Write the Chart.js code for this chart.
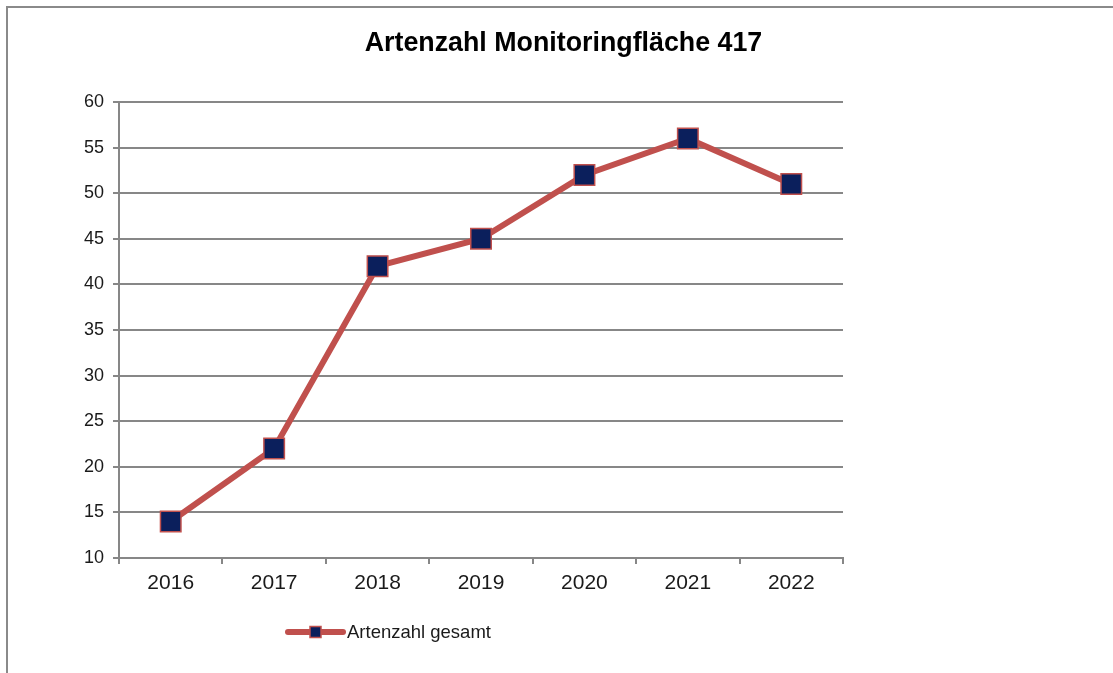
<!DOCTYPE html>
<html>
<head>
<meta charset="utf-8">
<script src="https://cdn.jsdelivr.net/npm/chart.js@4"></script>
<style>
  html, body { margin: 0; padding: 0; background: #fff; }
  #chart { display: block; }
</style>
</head>
<body>
<canvas id="chart" width="1113" height="673"></canvas>
<script>
// chart data
var years = ['2016', '2017', '2018', '2019', '2020', '2021', '2022'];
var artenzahl = [14, 22, 42, 45, 52, 56, 51];
var seriesName = 'Artenzahl gesamt';
var chartTitle = 'Artenzahl Monitoringfläche 417';
var yMin = 10, yMax = 60, yStep = 5;

var lineColor = '#c0504d';
var markerFill = '#0b1f5c';
var gridColor = '#878787';
var textColor = '#1a1a1a';
var fontFamily = '"Liberation Sans", Arial, sans-serif';

// frame round the chart (only top and left edge visible)
var framePlugin = {
	id: 'frame',
	beforeDraw: function(chart) {
		var ctx = chart.ctx;
		ctx.save();
		ctx.fillStyle = '#fff';
		ctx.fillRect(0, 0, chart.width, chart.height);
		ctx.strokeStyle = '#8a8a8a';
		ctx.lineWidth = 2;
		ctx.beginPath();
		ctx.moveTo(7, chart.height + 5);
		ctx.lineTo(7, 7);
		ctx.lineTo(chart.width + 5, 7);
		ctx.stroke();
		ctx.restore();
	}
};

// legend below the plot, drawn like the office one
var legendPlugin = {
	id: 'officeLegend',
	afterDraw: function(chart) {
		var ctx = chart.ctx;
		var ds = chart.data.datasets[0];
		var y = 632, x0 = 288, x1 = 343, cx = (x0 + x1) / 2;
		ctx.save();
		ctx.strokeStyle = ds.borderColor;
		ctx.lineWidth = 6;
		ctx.lineCap = 'round';
		ctx.beginPath();
		ctx.moveTo(x0, y);
		ctx.lineTo(x1, y);
		ctx.stroke();
		ctx.fillStyle = ds.pointBackgroundColor;
		ctx.strokeStyle = ds.pointBorderColor;
		ctx.lineWidth = 1.5;
		ctx.fillRect(cx - 5.5, y - 5.5, 11, 11);
		ctx.strokeRect(cx - 5.5, y - 5.5, 11, 11);
		ctx.fillStyle = textColor;
		ctx.font = '18.5px ' + fontFamily;
		ctx.textAlign = 'left';
		ctx.textBaseline = 'middle';
		ctx.fillText(ds.label, 347, y + 1);
		ctx.restore();
	}
};

var ctx = document.getElementById('chart').getContext('2d');
window.chart = new Chart(ctx, {
	type: 'line',
	data: {
		labels: years,
		datasets: [{
			label: seriesName,
			data: artenzahl,
			borderColor: lineColor,
			borderWidth: 6,
			tension: 0,
			pointStyle: 'rect',
			pointRadius: 14.5,
			pointHoverRadius: 14.5,
			pointBackgroundColor: markerFill,
			pointBorderColor: lineColor,
			pointBorderWidth: 1.5
		}]
	},
	options: {
		responsive: false,
		devicePixelRatio: 1,
		animation: false,
		layout: { padding: { left: 14, right: 0, top: 0, bottom: 0 } },
		plugins: {
			legend: { display: false },
			tooltip: { enabled: false },
			title: {
				display: true,
				text: chartTitle,
				color: '#000',
				font: { family: fontFamily, size: 26.8, weight: 'bold', lineHeight: 1.2 },
				padding: { top: 28, bottom: 41.8 }
			}
		},
		scales: {
			x: {
				offset: true,
				afterFit: function(s) { s.height = 115; },
				grid: {
					offset: true,
					drawOnChartArea: false,
					drawTicks: true,
					tickLength: 6,
					color: gridColor,
					lineWidth: 2
				},
				border: { color: gridColor, width: 2 },
				ticks: {
					color: textColor,
					padding: 7,
					maxRotation: 0,
					font: { family: fontFamily, size: 21 }
				}
			},
			y: {
				min: yMin,
				max: yMax,
				afterFit: function(s) { s.width = 105; },
				grid: {
					color: gridColor,
					lineWidth: 2,
					tickLength: 6
				},
				border: { color: gridColor, width: 2 },
				ticks: {
					stepSize: yStep,
					color: textColor,
					padding: 9,
					font: { family: fontFamily, size: 18 }
				}
			},
			// empty right-hand strip, keeps the plot narrow but title centred on the whole box
			spacer: {
				type: 'linear',
				position: 'right',
				display: true,
				afterFit: function(s) { s.width = 270; },
				grid: { display: false, drawTicks: false },
				border: { display: false },
				ticks: { display: false }
			}
		}
	},
	plugins: [framePlugin, legendPlugin]
});
</script>
</body>
</html>
